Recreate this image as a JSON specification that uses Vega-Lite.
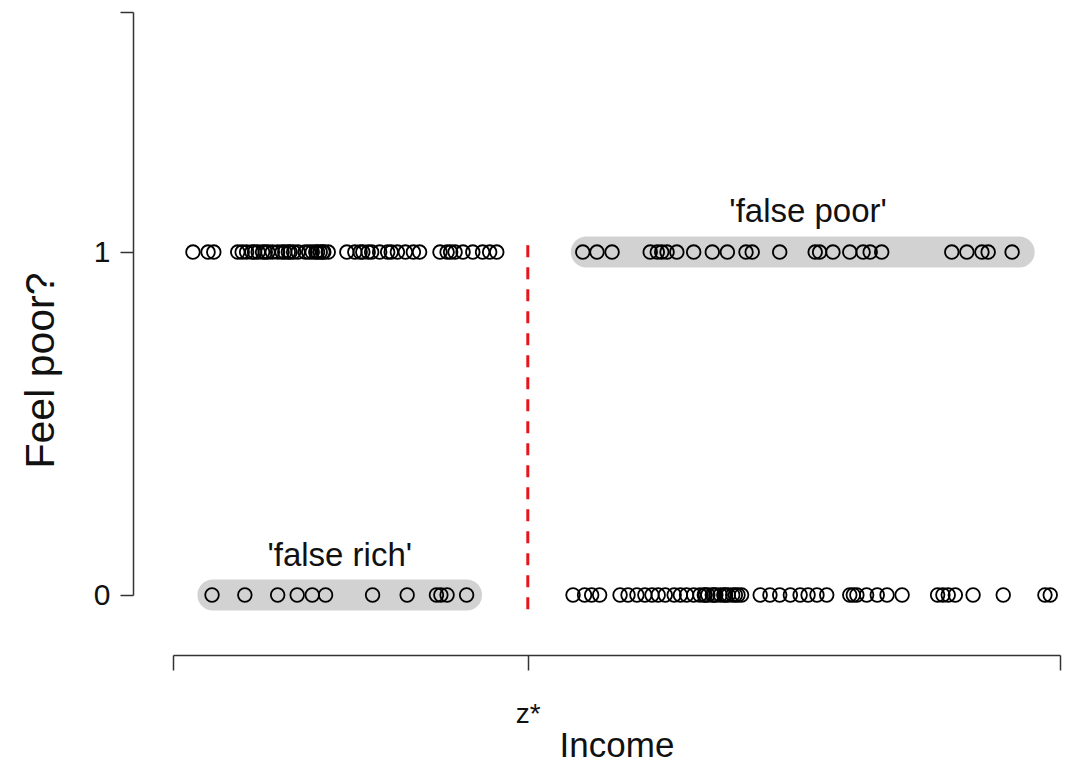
{
  "$schema": "https://vega.github.io/schema/vega-lite/v6.json",
  "width": 887,
  "height": 583,
  "autosize": {"type": "none"},
  "padding": {"left": 173, "top": 12, "right": 11, "bottom": 170},
  "background": "white",
  "config": {
    "view": {"stroke": null},
    "font": "Liberation Sans",
    "axis": {"grid": false, "domainColor": "#333", "tickColor": "#333", "domainWidth": 1.5, "tickWidth": 1.5, "labelColor": "#111", "titleColor": "#111", "titleFontWeight": "normal", "labelFont": "Liberation Sans", "titleFont": "Liberation Sans"}
  },
  "datasets": {
    "points": [
      {"income": 2.25, "feel": 1}, {"income": 3.95, "feel": 1}, {"income": 4.6, "feel": 1}, {"income": 7.3, "feel": 1},
      {"income": 7.8, "feel": 1}, {"income": 8.3, "feel": 1}, {"income": 8.9, "feel": 1}, {"income": 9.6, "feel": 1},
      {"income": 10.1, "feel": 1}, {"income": 10.7, "feel": 1}, {"income": 11.2, "feel": 1}, {"income": 11.8, "feel": 1},
      {"income": 12.6, "feel": 1}, {"income": 13.2, "feel": 1}, {"income": 13.6, "feel": 1}, {"income": 14.1, "feel": 1},
      {"income": 14.9, "feel": 1}, {"income": 15.7, "feel": 1}, {"income": 16.1, "feel": 1}, {"income": 16.6, "feel": 1},
      {"income": 17.0, "feel": 1}, {"income": 17.5, "feel": 1}, {"income": 19.6, "feel": 1}, {"income": 20.5, "feel": 1},
      {"income": 9.2, "feel": 1}, {"income": 10.4, "feel": 1}, {"income": 12.3, "feel": 1}, {"income": 13.0, "feel": 1},
      {"income": 15.3, "feel": 1}, {"income": 16.3, "feel": 1}, {"income": 16.9, "feel": 1}, {"income": 21.1, "feel": 1},
      {"income": 21.4, "feel": 1}, {"income": 22.0, "feel": 1}, {"income": 22.4, "feel": 1}, {"income": 23.3, "feel": 1},
      {"income": 24.2, "feel": 1}, {"income": 25.3, "feel": 1}, {"income": 26.2, "feel": 1}, {"income": 27.1, "feel": 1},
      {"income": 27.8, "feel": 1}, {"income": 30.1, "feel": 1}, {"income": 30.9, "feel": 1}, {"income": 31.8, "feel": 1},
      {"income": 32.7, "feel": 1}, {"income": 33.8, "feel": 1}, {"income": 34.9, "feel": 1}, {"income": 35.7, "feel": 1},
      {"income": 36.5, "feel": 1}, {"income": 24.6, "feel": 1}, {"income": 31.3, "feel": 1},
      {"income": 46.2, "feel": 1}, {"income": 47.8, "feel": 1}, {"income": 49.5, "feel": 1}, {"income": 53.8, "feel": 1},
      {"income": 54.6, "feel": 1}, {"income": 55.1, "feel": 1}, {"income": 55.7, "feel": 1}, {"income": 56.8, "feel": 1},
      {"income": 58.7, "feel": 1}, {"income": 60.8, "feel": 1}, {"income": 62.5, "feel": 1}, {"income": 64.6, "feel": 1},
      {"income": 65.3, "feel": 1}, {"income": 68.4, "feel": 1}, {"income": 72.4, "feel": 1}, {"income": 72.9, "feel": 1},
      {"income": 74.4, "feel": 1}, {"income": 76.3, "feel": 1}, {"income": 77.8, "feel": 1}, {"income": 78.6, "feel": 1},
      {"income": 79.9, "feel": 1}, {"income": 87.8, "feel": 1}, {"income": 89.5, "feel": 1}, {"income": 91.2, "feel": 1},
      {"income": 91.9, "feel": 1}, {"income": 94.6, "feel": 1},
      {"income": 4.4, "feel": 0}, {"income": 8.1, "feel": 0}, {"income": 11.8, "feel": 0}, {"income": 14.0, "feel": 0},
      {"income": 15.7, "feel": 0}, {"income": 17.2, "feel": 0}, {"income": 22.5, "feel": 0}, {"income": 26.4, "feel": 0},
      {"income": 29.7, "feel": 0}, {"income": 30.2, "feel": 0}, {"income": 30.9, "feel": 0}, {"income": 33.1, "feel": 0},
      {"income": 45.1, "feel": 0}, {"income": 46.4, "feel": 0}, {"income": 47.2, "feel": 0}, {"income": 48.1, "feel": 0},
      {"income": 50.4, "feel": 0}, {"income": 51.3, "feel": 0}, {"income": 52.3, "feel": 0}, {"income": 53.2, "feel": 0},
      {"income": 54.0, "feel": 0}, {"income": 54.7, "feel": 0}, {"income": 55.5, "feel": 0}, {"income": 56.5, "feel": 0},
      {"income": 57.2, "feel": 0}, {"income": 57.9, "feel": 0}, {"income": 58.7, "feel": 0}, {"income": 59.4, "feel": 0},
      {"income": 59.9, "feel": 0}, {"income": 60.3, "feel": 0}, {"income": 60.8, "feel": 0}, {"income": 61.2, "feel": 0},
      {"income": 61.7, "feel": 0}, {"income": 62.1, "feel": 0}, {"income": 62.6, "feel": 0}, {"income": 63.1, "feel": 0},
      {"income": 63.7, "feel": 0}, {"income": 64.1, "feel": 0}, {"income": 60.0, "feel": 0}, {"income": 61.0, "feel": 0},
      {"income": 62.3, "feel": 0}, {"income": 63.4, "feel": 0}, {"income": 66.2, "feel": 0}, {"income": 67.3, "feel": 0},
      {"income": 68.4, "feel": 0}, {"income": 69.6, "feel": 0}, {"income": 70.7, "feel": 0}, {"income": 71.6, "feel": 0},
      {"income": 72.6, "feel": 0}, {"income": 73.7, "feel": 0}, {"income": 76.3, "feel": 0}, {"income": 76.7, "feel": 0},
      {"income": 77.1, "feel": 0}, {"income": 78.2, "feel": 0}, {"income": 79.4, "feel": 0}, {"income": 80.5, "feel": 0},
      {"income": 82.2, "feel": 0}, {"income": 86.2, "feel": 0}, {"income": 86.8, "feel": 0}, {"income": 87.4, "feel": 0},
      {"income": 88.2, "feel": 0}, {"income": 90.2, "feel": 0}, {"income": 93.6, "feel": 0}, {"income": 98.3, "feel": 0},
      {"income": 98.9, "feel": 0}
    ],
    "bands": [
      {"start": 46.6, "end": 95.4, "feel": 1},
      {"start": 4.5, "end": 33.1, "feel": 0}
    ],
    "threshold": [
      {"income": 40, "top": 1.02, "bottom": -0.06}
    ],
    "labels": [
      {"income": 71.6, "feel": 1.117, "label": "'false poor'"},
      {"income": 18.8, "feel": 0.114, "label": "'false rich'"}
    ]
  },
  "layer": [
    {
      "data": {"name": "bands"},
      "mark": {"type": "rule", "strokeWidth": 31, "strokeCap": "round", "color": "#d2d2d2"},
      "encoding": {
        "x": {"field": "start", "type": "quantitative", "scale": {"domain": [0, 100], "nice": false, "zero": false},
          "axis": {"values": [0, 40, 100], "labelExpr": "datum.value == 40 ? 'z*' : ''", "title": "Income", "offset": 60, "tickSize": 15, "labelPadding": 30, "labelFontSize": 28, "titleFontSize": 35, "titlePadding": 0}},
        "x2": {"field": "end"},
        "y": {"field": "feel", "type": "quantitative", "scale": {"domain": [0, 1.7], "nice": false},
          "axis": {"values": [0, 1, 1.7], "labelExpr": "datum.value == 0 ? '0' : datum.value == 1 ? '1' : ''", "title": "Feel poor?", "offset": 40, "tickSize": 13, "labelPadding": 10, "labelFontSize": 30, "titleFontSize": 41, "titlePadding": 31, "titleY": 358}}
      }
    },
    {
      "data": {"name": "threshold"},
      "mark": {"type": "rule", "color": "#e8141c", "strokeWidth": 3, "strokeDash": [12, 10]},
      "encoding": {
        "x": {"field": "income", "type": "quantitative"},
        "y": {"field": "top", "type": "quantitative"},
        "y2": {"field": "bottom"}
      }
    },
    {
      "data": {"name": "points"},
      "mark": {"type": "point", "shape": "circle", "filled": false, "stroke": "#000", "strokeWidth": 1.8, "size": 185, "opacity": 1},
      "encoding": {
        "x": {"field": "income", "type": "quantitative"},
        "y": {"field": "feel", "type": "quantitative"}
      }
    },
    {
      "data": {"name": "labels"},
      "mark": {"type": "text", "fontSize": 33, "color": "#111", "baseline": "middle", "align": "center"},
      "encoding": {
        "x": {"field": "income", "type": "quantitative"},
        "y": {"field": "feel", "type": "quantitative"},
        "text": {"field": "label"}
      }
    }
  ]
}
